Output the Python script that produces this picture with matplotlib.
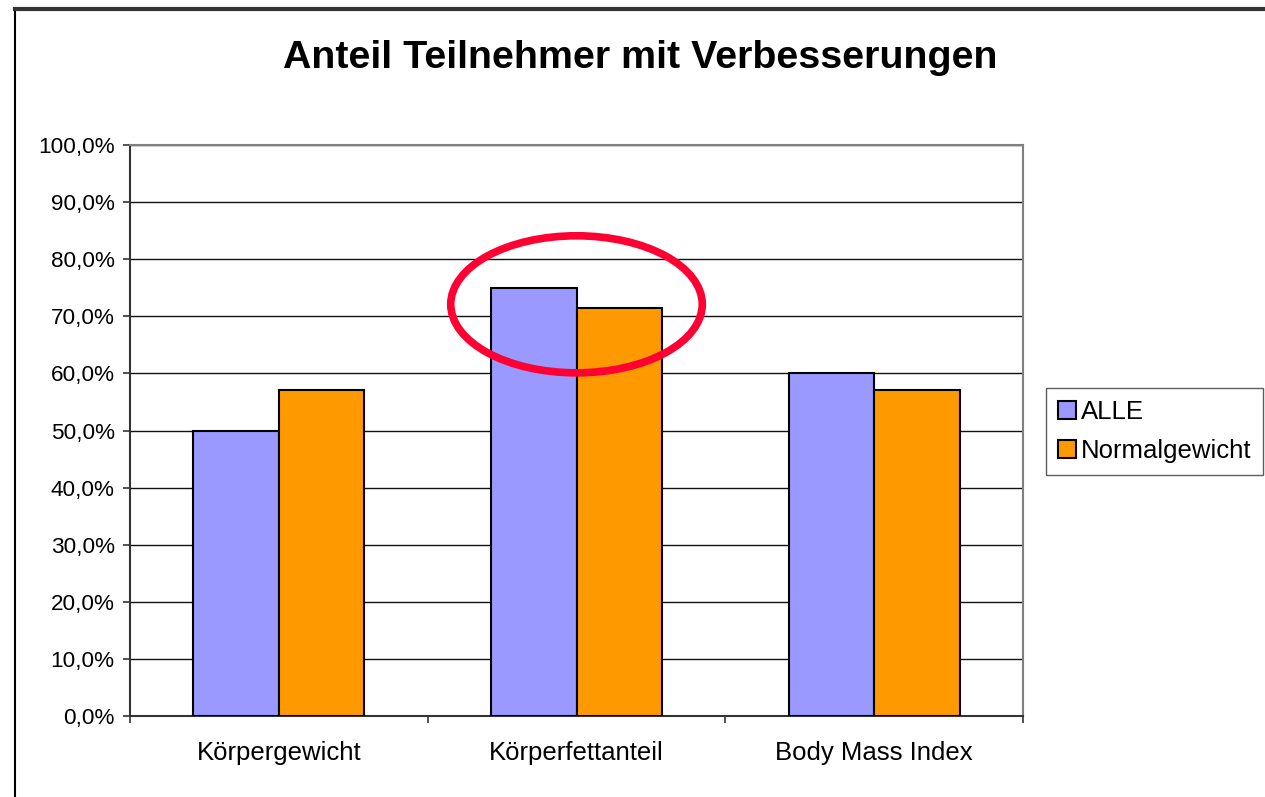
import matplotlib
matplotlib.use("Agg")
import matplotlib.pyplot as plt
from matplotlib.patches import Ellipse
from matplotlib.lines import Line2D
import numpy as np

plt.rcParams['font.family'] = ['Liberation Sans', 'DejaVu Sans']

categories = ["Körpergewicht", "Körperfettanteil", "Body Mass Index"]
series_names = ["ALLE", "Normalgewicht"]
alle = [50.0, 75.0, 60.0]
normal = [57.1, 71.4, 57.1]
colors = ["#9999FF", "#FF9900"]
yticks = [0, 10, 20, 30, 40, 50, 60, 70, 80, 90, 100]
ytick_labels = ["0,0%", "10,0%", "20,0%", "30,0%", "40,0%", "50,0%",
                "60,0%", "70,0%", "80,0%", "90,0%", "100,0%"]
title = "Anteil Teilnehmer mit Verbesserungen"
highlight_index = 1

fig = plt.figure(figsize=(12.65, 7.97), dpi=100)
ax = fig.add_axes([130/1265, 1-716/797, (1023-130)/1265, (716-145)/797])

x = np.arange(len(categories))
w = 0.287
ax.bar(x - w/2, alle, w, color=colors[0], edgecolor="black", linewidth=1.5, label=series_names[0], zorder=3)
ax.bar(x + w/2, normal, w, color=colors[1], edgecolor="black", linewidth=1.5, label=series_names[1], zorder=3)

ax.set_xlim(-0.5, len(categories) - 0.5)
ax.set_ylim(0, 100)
ax.set_yticks(yticks)
ax.set_yticklabels(ytick_labels, fontsize=16.2)
ax.yaxis.grid(True, color="#111111", linewidth=1.0, zorder=0)
ax.set_axisbelow(True)

ax.set_xticks(x)
ax.set_xticklabels(categories, fontsize=18.5)
ax.tick_params(axis='x', length=0, pad=18)
ax.set_xticks(np.arange(len(categories) + 1) - 0.5, minor=True)
ax.tick_params(axis='x', which='minor', length=5, direction='out', color='#333333', width=1.2)
ax.tick_params(axis='y', length=5, direction='out', color='#333333', width=1.2, pad=6)

for s in ['top', 'right']:
    ax.spines[s].set_color('#808080')
    ax.spines[s].set_linewidth(1.5)
for s in ['left', 'bottom']:
    ax.spines[s].set_color('#333333')
    ax.spines[s].set_linewidth(1.5)

# highlight ellipse around the middle category
cy = (alle[highlight_index] + normal[highlight_index]) / 2 - 1.1
ell = Ellipse((x[highlight_index], cy), width=0.845, height=24.0, fill=False,
              edgecolor="#FF0033", linewidth=5.5, zorder=5, clip_on=False)
ax.add_patch(ell)

fig.text(640/1265, 1-58/797, title, ha='center', va='center', fontsize=28.4, fontweight='bold')

leg = fig.legend(loc='upper left', bbox_to_anchor=(1046/1265, 1-388/797), fontsize=18.5,
                 frameon=True, fancybox=False, edgecolor='#333333', handlelength=0.7,
                 handleheight=0.7, handletextpad=0.2, borderpad=0.45, labelspacing=0.6,
                 borderaxespad=0)
leg.get_frame().set_linewidth(1.0)

# figure border (left and top)
fig.add_artist(Line2D([15/1265, 15/1265], [0, 1-9/797], transform=fig.transFigure, color='black', linewidth=1.5))
fig.add_artist(Line2D([15/1265, 1], [1-9/797, 1-9/797], transform=fig.transFigure, color='#333333', linewidth=3))

fig.savefig("out.png", dpi=100)
